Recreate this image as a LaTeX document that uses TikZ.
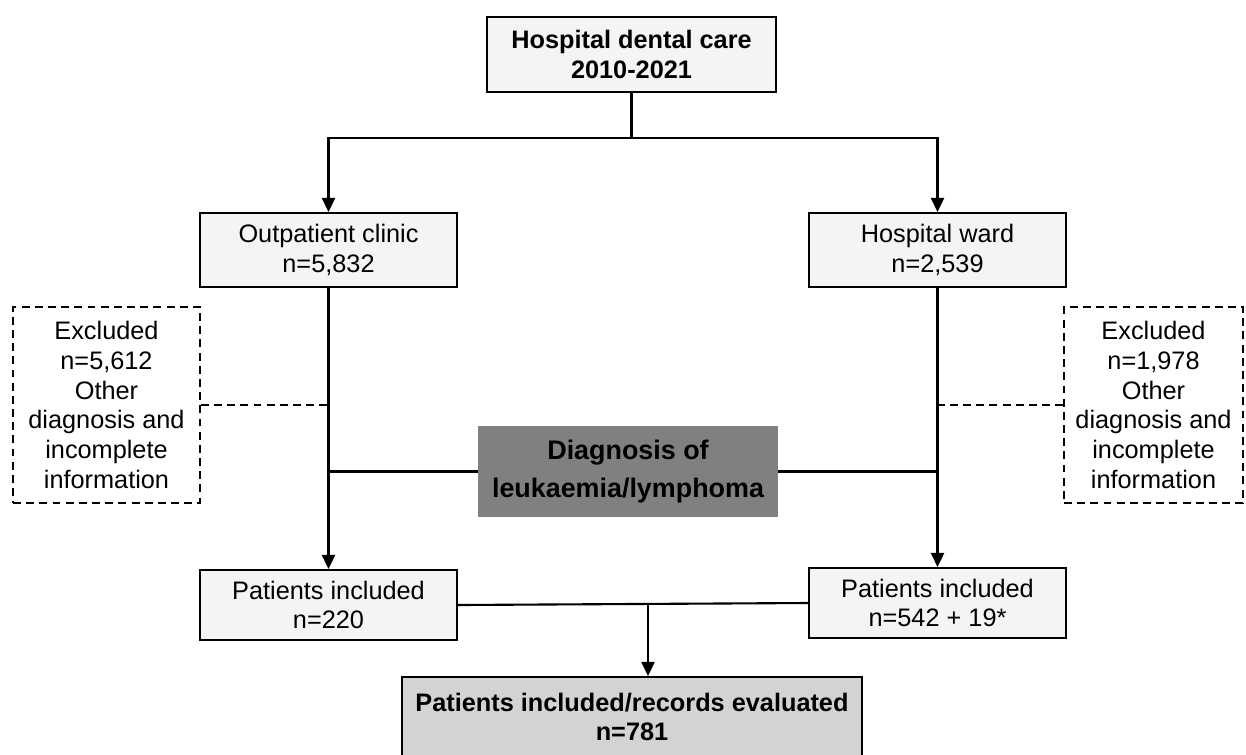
\documentclass[tikz,border=0pt]{standalone}
\usepackage{fontspec}
\setmainfont{Liberation Sans}
\usetikzlibrary{arrows.meta,calc}

\definecolor{boxfill}{HTML}{F3F4F3}
\definecolor{diagfill}{HTML}{808080}
\definecolor{totalfill}{HTML}{D3D3D3}

\begin{document}
\begin{tikzpicture}[x=0.02cm, y=-0.02cm,
    stage/.style={rectangle, draw, line width=1.2pt, fill=boxfill, align=center, inner sep=0pt, font=\fontsize{14.4}{17}\selectfont},
    excl/.style={rectangle, draw, dashed, dash pattern=on 4.5pt off 3pt, line width=0.9pt, align=center, inner sep=0pt, font=\fontsize{14.4}{17}\selectfont},
    arr/.style={-{Triangle[width=7.5pt,length=8pt]}, line width=1.2pt},
    link/.style={line width=1.2pt}]
    \useasboundingbox (0,0) rectangle (1246,754);

    \node[stage, minimum width=289*0.02cm, minimum height=75*0.02cm, font=\fontsize{14.4}{17}\selectfont\bfseries] (top) at (631.5,54.5) {Hospital dental care\\2010-2021};
    \node[stage, minimum width=257*0.02cm, minimum height=74*0.02cm] (outp) at (328.5,250) {Outpatient clinic\\n=5,832};
    \node[stage, minimum width=257*0.02cm, minimum height=74*0.02cm] (ward) at (937.5,250) {Hospital ward\\n=2,539};
    \node[excl, minimum width=187*0.02cm, minimum height=196*0.02cm] (exl) at (106.5,405) {Excluded\\n=5,612\\Other\\diagnosis and\\incomplete\\information};
    \node[excl, minimum width=179*0.02cm, minimum height=196*0.02cm] (exr) at (1153.5,405) {Excluded\\n=1,978\\Other\\diagnosis and\\incomplete\\information};
    \node[rectangle, fill=diagfill, align=center, inner sep=0pt, minimum width=300*0.02cm, minimum height=91*0.02cm, font=\fontsize{15.3}{21.5}\selectfont\bfseries] (diag) at (628,471.5) {Diagnosis of\\leukaemia/lymphoma};
    \node[stage, minimum width=257*0.02cm, minimum height=70*0.02cm] (pl) at (328.5,605) {Patients included\\n=220};
    \node[stage, minimum width=257*0.02cm, minimum height=70*0.02cm] (pr) at (937.5,603) {Patients included\\n=542 + 19*};
    \node[stage, fill=totalfill, minimum width=460*0.02cm, minimum height=80*0.02cm, font=\fontsize{14.4}{17}\selectfont\bfseries] (total) at (632,717) {Patients included/records evaluated\\n=781};

    \coordinate (split) at (631.5,138);
    \coordinate (merge) at (648,604);

    % top split
    \draw[link] (top) -- (split);
    \draw[arr] (split) -| (outp);
    \draw[arr] (split) -| (ward);
    % down the two branches
    \draw[arr] (outp) -- (pl);
    \draw[arr] (ward) -- (pr);
    % exclusions
    \draw[excl] (exl.east) -- (exl.east -| outp);
    \draw[excl] (exr.west) -- (exr.west -| ward);
    \draw[link] (diag.west) -- (diag.west -| outp);
    \draw[link] (diag.east) -- (diag.east -| ward);
    % merge
    \draw[link] (pl.east) -- (pr.west);
    \draw[arr] (merge) -- (merge |- total.north);
\end{tikzpicture}
\end{document}
